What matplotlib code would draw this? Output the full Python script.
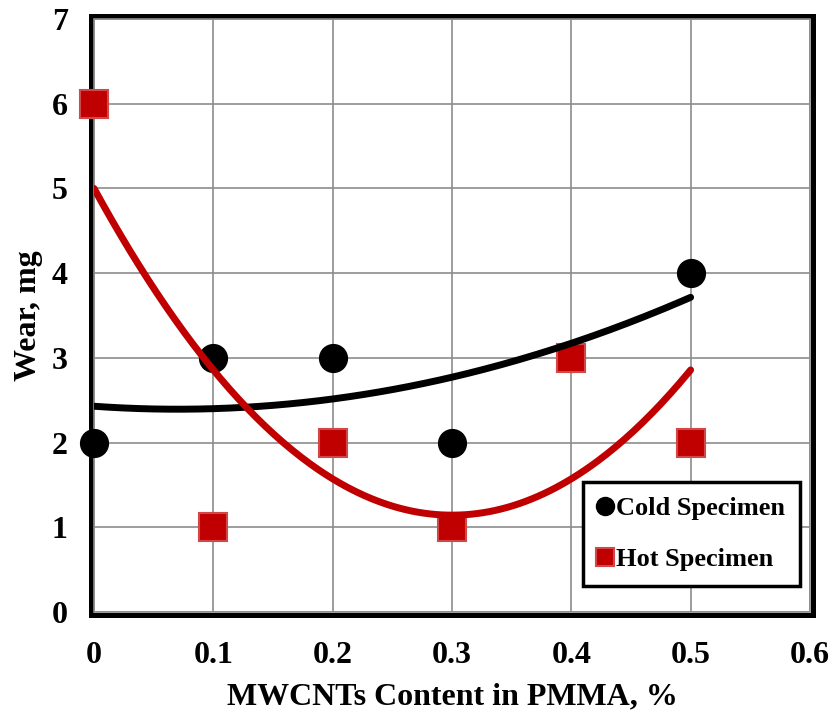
import numpy as np
import matplotlib
matplotlib.use("Agg")
import matplotlib.pyplot as plt
from matplotlib.patches import Rectangle

plt.rcParams['font.family'] = ['Liberation Serif', 'DejaVu Serif']
plt.rcParams['font.weight'] = 'bold'

# Measured wear values
cold_x = [0.0, 0.1, 0.2, 0.3, 0.4, 0.5]
cold_wear = [2, 3, 3, 2, 3, 4]
hot_x = [0.0, 0.1, 0.2, 0.3, 0.4, 0.5]
hot_wear = [6, 1, 2, 1, 3, 2]

x_ticks = [0, 0.1, 0.2, 0.3, 0.4, 0.5, 0.6]
x_tick_labels = ['0', '0.1', '0.2', '0.3', '0.4', '0.5', '0.6']
y_ticks = [0, 1, 2, 3, 4, 5, 6, 7]

RED = '#c00000'

fig = plt.figure(figsize=(8.35, 7.14), dpi=100)
ax = fig.add_axes([0.1126, 0.1429, 0.8574, 0.8305])

ax.set_xlim(0, 0.6)
ax.set_ylim(0, 7)
ax.set_xticks(x_ticks)
ax.set_xticklabels(x_tick_labels)
ax.set_yticks(y_ticks)
ax.grid(True, color='#8c8c8c', linewidth=1.2, zorder=0)
ax.set_axisbelow(True)
ax.tick_params(axis='both', length=0, labelsize=23)
ax.tick_params(axis='x', pad=21)
ax.tick_params(axis='y', pad=19)

for s in ax.spines.values():
    s.set_visible(False)

# plot-area border: gray inner line with a heavy black outer frame
dx, dy = 2.6 / 716, 2.6 / 593
ax.add_patch(Rectangle((-dx, -dy), 1 + 2 * dx, 1 + 2 * dy, transform=ax.transAxes,
                       fill=False, edgecolor='black', linewidth=3.6, clip_on=False, zorder=2))
ax.add_patch(Rectangle((0, 0), 1, 1, transform=ax.transAxes,
                       fill=False, edgecolor='#8c8c8c', linewidth=1.2, clip_on=False, zorder=2))

ax.plot(cold_x, cold_wear, 'o', color='black', markersize=20, linestyle='none',
        zorder=3, clip_on=False, label='Cold Specimen')
ax.plot(hot_x, hot_wear, 's', color=RED, markeredgecolor='#d04848',
        markeredgewidth=1.5, markersize=20, linestyle='none', zorder=4,
        clip_on=False, label='Hot Specimen')

# second-order polynomial trendlines
xs = np.linspace(0, 0.5, 200)
cold_fit = np.polyfit(cold_x, cold_wear, 2)
hot_fit = np.polyfit(hot_x, hot_wear, 2)
ax.plot(xs, np.polyval(cold_fit, xs), color='black', linewidth=5, zorder=5,
        solid_capstyle='round')
ax.plot(xs, np.polyval(hot_fit, xs), color=RED, linewidth=5, zorder=6,
        solid_capstyle='round')

ax.set_xlabel('MWCNTs Content in PMMA, %', fontsize=23, fontweight='bold', labelpad=9)
ax.set_ylabel('Wear, mg', fontsize=23, fontweight='bold', labelpad=6)

leg = ax.legend(loc='lower right', bbox_to_anchor=(0.986, 0.044),
                prop={'weight': 'bold', 'size': 19}, frameon=True, fancybox=False,
                handlelength=0.5, handletextpad=0.2, borderpad=0.55,
                labelspacing=1.05, markerscale=0.65, borderaxespad=0,
                framealpha=1)
leg.get_frame().set_edgecolor('black')
leg.get_frame().set_linewidth(2.5)
leg.set_zorder(10)

fig.savefig('out.png', dpi=100)
